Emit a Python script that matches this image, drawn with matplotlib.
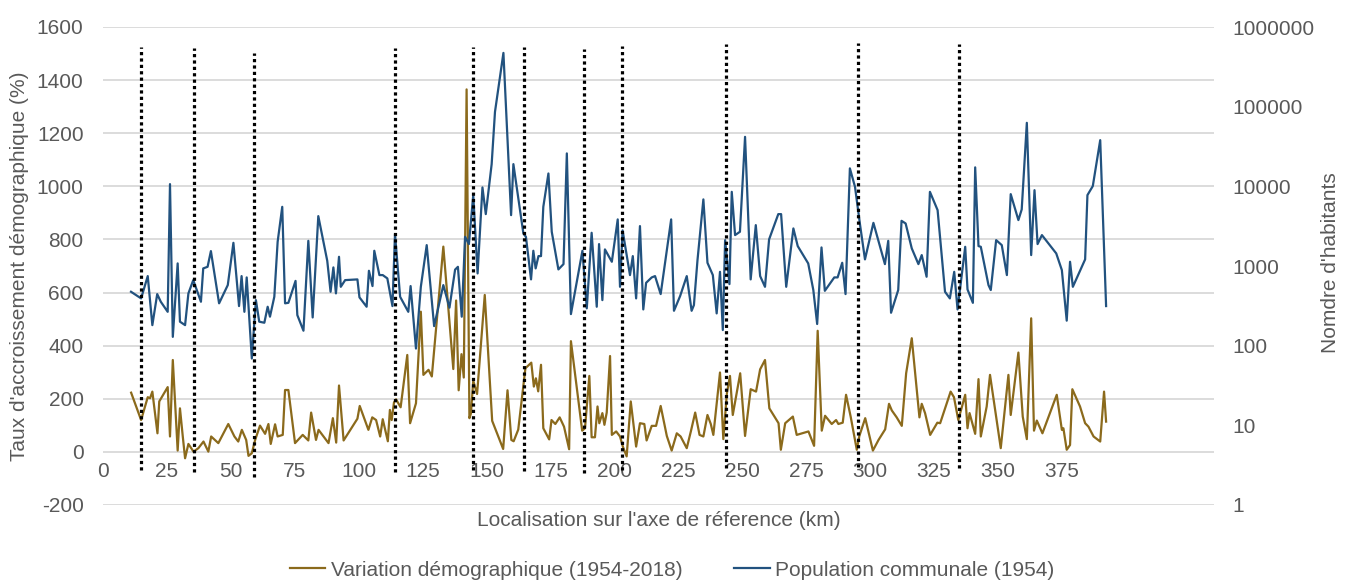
import matplotlib
matplotlib.use("Agg")
import matplotlib.pyplot as plt
import matplotlib.transforms as mtransforms
from matplotlib.ticker import FixedLocator, FuncFormatter

plt.rcParams['font.family'] = ['Liberation Sans', 'DejaVu Sans']
plt.rcParams['axes.unicode_minus'] = False

# ---- Data ----
var_km = [11.0, 14.9, 17.5, 18.4, 19.3, 21.3, 22.0, 25.3, 26.2, 27.3, 29.2, 30.1, 31.2, 32.1, 33.4,
          35.4, 37.3, 39.3, 41.2, 42.3, 45.1, 49.0, 51.4, 52.9, 54.3, 56.0, 56.9, 58.2, 59.5, 61.4,
          63.4, 64.7, 65.6, 67.3, 68.3, 70.3, 71.2, 72.5, 75.1, 78.1, 80.3, 81.4, 83.3, 84.3, 88.2,
          89.9, 91.2, 92.3, 94.1, 99.5, 100.4, 103.8, 105.3, 106.8, 108.4, 109.4, 111.4, 112.2, 112.9,
          113.8, 114.6, 116.4, 119.0, 120.1, 122.4, 124.3, 125.3, 127.3, 128.6, 133.1, 137.0, 138.1,
          139.1, 140.2, 141.1, 142.2, 143.3, 143.9, 144.8, 146.3, 149.3, 152.2, 156.5, 158.2, 159.7,
          160.6, 162.4, 165.2, 167.5, 168.5, 169.3, 170.2, 171.3, 172.2, 174.5, 175.4, 176.9, 178.6,
          180.3, 182.3, 183.0, 187.4, 188.5, 190.2, 191.1, 192.4, 193.4, 194.1, 195.3, 196.1, 197.0,
          198.3, 199.0, 200.7, 202.2, 203.3, 204.8, 206.4, 208.5, 210.0, 211.7, 212.6, 214.6, 216.3,
          218.1, 220.5, 222.4, 224.4, 225.9, 228.3, 229.9, 231.6, 233.3, 234.8, 236.4, 237.7, 238.7,
          241.3, 242.6, 244.0, 245.2, 246.3, 249.2, 251.1, 253.3, 255.4, 257.0, 258.9, 260.6, 264.2,
          265.1, 266.8, 269.8, 271.3, 275.9, 278.1, 279.5, 281.1, 282.4, 285.0, 286.7, 287.6, 289.3,
          290.6, 292.4, 294.8, 295.8, 298.1, 301.1, 303.3, 305.9, 307.4, 308.5, 310.4, 312.4, 314.1,
          316.3, 319.3, 320.2, 321.5, 323.5, 326.3, 327.4, 331.5, 332.8, 334.5, 337.2, 338.1, 338.9,
          341.1, 342.4, 343.3, 345.6, 346.9, 351.1, 354.1, 355.0, 358.0, 359.7, 361.3, 363.0, 364.1,
          365.2, 367.4, 373.0, 375.0, 375.6, 376.9, 378.2, 379.1, 382.1, 384.1, 385.4, 387.4, 390.0,
          391.5, 392.3]
var_pct = [223, 120, 206, 202, 227, 70, 190, 244, 58, 346, 5, 164, 58, -24, 30,
           1, 14, 39, 1, 58, 33, 105, 58, 39, 83, 45, -15, -5, 45, 99,
           68, 105, 30, 104, 58, 64, 233, 233, 33, 64, 43, 148, 45, 83, 33,
           127, 35, 250, 43, 125, 173, 83, 130, 120, 58, 123, 40, 158, 120,
           186, 198, 168, 365, 108, 183, 528, 290, 309, 284, 773, 312, 570,
           232, 368, 280, 1365, 127, 145, 268, 218, 591, 117, 11, 232, 45,
           40, 84, 315, 336, 246, 277, 228, 328, 89, 47, 120, 105, 130,
           95, 10, 417, 80, 89, 286, 55, 55, 171, 108, 146, 102, 148,
           361, 64, 77, 58, 20, -17, 190, 20, 108, 105, 43, 98, 98,
           173, 60, 5, 70, 58, 14, 77, 148, 64, 58, 139, 105, 64,
           299, 48, 221, 286, 139, 296, 60, 236, 227, 311, 346, 164, 108,
           8, 108, 133, 64, 77, 23, 456, 80, 136, 105, 120, 105, 110,
           215, 133, 8, 60, 127, 5, 45, 85, 181, 156, 130, 98, 296,
           428, 130, 181, 146, 64, 110, 108, 227, 206, 120, 215, 89, 146,
           68, 274, 58, 171, 290, 14, 290, 139, 374, 133, 48, 503, 80,
           118, 70, 215, 83, 89, 8, 26, 236, 171, 108, 95, 58, 39,
           227, 114]

pop_km = [10.95, 14.9, 17.5, 19.3, 21.2, 22.6, 25.3, 26.2, 27.3, 29.2, 30.1, 32.1, 33.4, 35.3, 38.3,
          39.2, 40.9, 42.2, 45.4, 48.8, 51.0, 53.2, 54.2, 55.3, 56.2, 58.2, 59.8, 61.1, 63.1, 64.4,
          65.3, 67.0, 68.3, 70.1, 71.2, 72.5, 75.3, 76.0, 78.4, 80.3, 82.0, 84.2, 87.7, 89.0, 90.1,
          91.1, 92.3, 93.0, 94.7, 99.5, 100.3, 103.1, 104.0, 105.4, 106.1, 108.1, 109.4, 111.2, 113.2,
          114.2, 116.2, 119.4, 120.3, 122.4, 124.3, 126.6, 129.5, 133.1, 135.5, 137.7, 138.8, 140.3,
          141.6, 143.1, 144.8, 146.5, 148.4, 149.7, 152.0, 153.3, 156.6, 159.6, 160.5, 164.4, 165.4,
          167.4, 168.3, 169.2, 170.3, 171.3, 172.2, 174.2, 175.5, 178.1, 180.1, 181.4, 183.0, 187.5,
          189.2, 191.1, 193.1, 194.0, 195.3, 196.3, 199.0, 201.3, 202.2, 203.2, 206.1, 207.2, 208.5,
          210.0, 211.3, 212.4, 214.6, 215.9, 218.1, 222.2, 223.3, 225.7, 228.3, 230.2, 231.1, 232.5,
          234.8, 236.4, 238.5, 240.0, 241.3, 242.4, 243.3, 245.0, 245.9, 247.2, 249.1, 251.1, 253.3,
          255.3, 257.0, 258.9, 260.5, 264.1, 265.2, 267.2, 270.0, 271.7, 275.8, 277.8, 279.3, 281.0,
          282.3, 286.0, 287.3, 289.1, 290.4, 292.1, 294.1, 296.0, 298.0, 301.3, 305.8, 307.1, 308.2,
          311.0, 312.3, 313.9, 316.3, 318.9, 320.2, 322.1, 323.4, 326.4, 329.3, 331.2, 332.9, 334.2,
          337.2, 338.1, 340.2, 341.1, 342.4, 343.3, 346.3, 347.2, 349.3, 351.5, 353.5, 355.0, 358.0,
          359.3, 361.3, 363.0, 364.3, 365.5, 367.2, 372.8, 375.0, 376.9, 378.2, 379.3, 384.1, 385.0,
          387.1, 390.0, 392.3]
pop_hab = [475, 392, 747, 181, 444, 356, 266, 10660, 129, 1078, 200, 181, 453, 665, 356,
           933, 977, 1538, 340, 576, 1954, 314, 747, 266, 719, 69, 373, 200, 194, 308,
           231, 411, 2013, 5530, 340, 345, 650, 242, 154, 2070, 226, 4227, 1162, 475, 960,
           453, 1305, 548, 665, 679, 404, 308, 871, 560, 1553, 769, 769, 699, 314,
           2512, 411, 266, 560, 92, 548, 1829, 176, 576, 300, 900, 977, 231,
           2326, 1884, 7755, 807, 9690, 4480, 19000, 86000, 473000, 4350, 19000, 2566, 2326,
           679, 1553, 933, 1331, 1331, 5530, 14500, 2690, 906, 1056, 25900, 249, 1553,
           294, 2612, 308, 1884, 373, 1616, 1130, 3845, 548, 2800, 769, 1331, 392,
           3170, 285, 615, 719, 747, 444, 3845, 274, 419, 747, 274, 323, 1186,
           6855, 1097, 769, 254, 845, 157, 2113, 593, 8530, 2443, 2690, 41800, 679,
           3260, 747, 548, 2157, 4480, 4480, 548, 2960, 1778, 1077, 499, 187, 1710,
           488, 719, 719, 1097, 444, 16800, 9860, 3420, 1211, 3480, 1056, 2070, 259,
           499, 3690, 3420, 1663, 1056, 1371, 733, 8530, 5030, 475, 392, 845, 285,
           1742, 508, 345, 17300, 1778, 1742, 576, 499, 2113, 1829, 769, 7980, 3770,
           5130, 62700, 1371, 8950, 1884, 2443, 1439, 888, 206, 1130, 548, 1211, 7755,
           10070, 38000, 314]

limit_km = [14.9, 35.7, 59.2, 114.2, 144.8, 164.8, 188.3, 202.8, 243.6, 295.1, 334.6]
limit_top = [1525, 1521, 1502, 1521, 1525, 1525, 1517, 1529, 1536, 1540, 1536]
limit_bottom = [-68, -75, -94, -75, -68, -72, -79, -68, -60, -56, -60]

left_ticks = [-200, 0, 200, 400, 600, 800, 1000, 1200, 1400, 1600]
right_ticks = [1, 10, 100, 1000, 10000, 100000, 1000000]
x_ticks = [0, 25, 50, 75, 100, 125, 150, 175, 200, 225, 250, 275, 300, 325, 350, 375]

label_var = "Variation démographique (1954-2018)"
label_pop = "Population communale (1954)"
xlabel = "Localisation sur l'axe de réference (km)"
ylabel_left = "Taux d'accroissement démographique (%)"
ylabel_right = "Nomdre d'habitants"

# ---- Styling ----
TXT = '#595959'
TAN = '#8B6A1C'
BLUE = '#22527F'
GRID = '#D9D9D9'
FS = 15

W, H = 1345, 580
fig = plt.figure(figsize=(W / 100, H / 100), dpi=100)
L, R, T, B = 103, 1214, 27, 505
ax = fig.add_axes([L / W, 1 - B / H, (R - L) / W, (B - T) / H])
ax2 = ax.twinx()

ax.set_xlim(0, 434.5)
ax.set_ylim(-200, 1600)
ax2.set_yscale('log')
ax2.set_ylim(1, 1000000)

ax.yaxis.set_major_locator(FixedLocator(left_ticks))
ax.grid(axis='y', color=GRID, linewidth=1.3)
ax.set_axisbelow(True)
ax.set_xticks(x_ticks)

ax2.yaxis.set_major_locator(FixedLocator(right_ticks))
ax2.yaxis.set_minor_locator(FixedLocator([]))
ax2.yaxis.set_major_formatter(FuncFormatter(lambda v, p: f"{int(round(v))}"))

for a in (ax, ax2):
    for s in a.spines.values():
        s.set_visible(False)

ax.spines['bottom'].set_position(('data', 0))
ax.tick_params(axis='x', length=0, pad=7, labelsize=FS, labelcolor=TXT)
ax.tick_params(axis='y', length=0, pad=14, labelsize=FS, labelcolor=TXT)
ax2.tick_params(axis='y', which='both', length=0, pad=13, labelsize=FS, labelcolor=TXT)

ax.plot(var_km, var_pct, color=TAN, linewidth=1.6, label=label_var, zorder=3)
ax2.plot(pop_km, pop_hab, color=BLUE, linewidth=1.6, label=label_pop, zorder=3)

trans = mtransforms.blended_transform_factory(ax2.transData, ax.transData)
for xk, yt, yb in zip(limit_km, limit_top, limit_bottom):
    ax2.plot([xk, xk], [yb, yt], transform=trans, color='black', linewidth=2.3,
             linestyle=(0, (1, 1)), zorder=5, solid_capstyle='butt', dash_capstyle='butt')

fig.text((L + R) / 2 / W, 1 - 520 / H, xlabel, ha='center', va='center', fontsize=FS, color=TXT)
fig.text(20 / W, 1 - 266 / H, ylabel_left, ha='center', va='center', rotation=90, fontsize=FS, color=TXT)
fig.text(1330 / W, 1 - 263 / H, ylabel_right, ha='center', va='center', rotation=90, fontsize=FS, color=TXT)

h1, l1 = ax.get_legend_handles_labels()
h2, l2 = ax2.get_legend_handles_labels()
leg = fig.legend(h1 + h2, l1 + l2, loc='center', bbox_to_anchor=(672 / W, 1 - 570 / H), ncol=2,
                 frameon=False, fontsize=FS, handlelength=1.7, handletextpad=0.25, columnspacing=2.5)
for t in leg.get_texts():
    t.set_color(TXT)

fig.savefig('out.png', dpi=100)
